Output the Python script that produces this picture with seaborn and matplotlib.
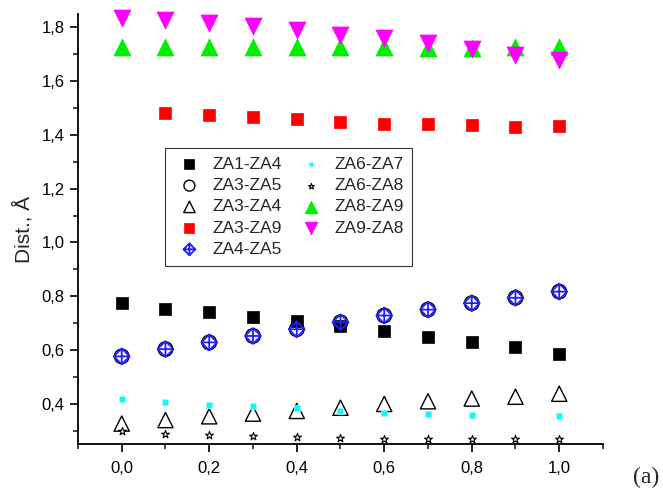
import numpy as np
import pandas as pd
import matplotlib
matplotlib.use("Agg")
import matplotlib.pyplot as plt
from matplotlib.path import Path
from matplotlib.ticker import MultipleLocator, FuncFormatter
import seaborn as sns

x = [0.0, 0.1, 0.2, 0.3, 0.4, 0.5, 0.6, 0.7, 0.8, 0.9, 1.0]
za1_za4 = [0.776, 0.752, 0.743, 0.724, 0.708, 0.690, 0.671, 0.649, 0.628, 0.610, 0.585]
za3_za5 = [0.576, 0.603, 0.628, 0.652, 0.677, 0.703, 0.728, 0.750, 0.774, 0.794, 0.817]
za3_za4 = [0.326, 0.339, 0.353, 0.363, 0.373, 0.385, 0.399, 0.409, 0.419, 0.426, 0.437]
za3_za9 = [np.nan, 1.483, 1.473, 1.467, 1.460, 1.448, 1.441, 1.439, 1.436, 1.430, 1.433]
za4_za5 = [0.576, 0.603, 0.628, 0.652, 0.677, 0.703, 0.728, 0.750, 0.774, 0.794, 0.817]
za6_za7 = [0.417, 0.405, 0.396, 0.390, 0.383, 0.372, 0.364, 0.362, 0.357, np.nan, 0.353]
za6_za8 = [0.297, 0.289, 0.284, 0.280, 0.276, 0.272, 0.268, 0.267, 0.267, 0.268, 0.267]
za8_za9 = [1.727, 1.727, 1.726, 1.727, 1.727, 1.726, 1.726, 1.725, 1.725, 1.726, 1.727]
za9_za8 = [1.835, 1.829, 1.816, 1.804, 1.789, 1.773, 1.760, 1.742, 1.721, 1.696, 1.677]

labels = ["ZA1-ZA4", "ZA3-ZA5", "ZA3-ZA4", "ZA3-ZA9", "ZA4-ZA5",
          "ZA6-ZA7", "ZA6-ZA8", "ZA8-ZA9", "ZA9-ZA8"]
series = [za1_za4, za3_za5, za3_za4, za3_za9, za4_za5, za6_za7, za6_za8, za8_za9, za9_za8]

# crossed diamond marker
verts = [(0, 1), (1, 0), (0, -1), (-1, 0), (0, 1),
         (0, 1), (0, -1), (-1, 0), (1, 0)]
codes = [Path.MOVETO, Path.LINETO, Path.LINETO, Path.LINETO, Path.CLOSEPOLY,
         Path.MOVETO, Path.LINETO, Path.MOVETO, Path.LINETO]
crossdiamond = Path(verts, codes)

styles = {
    "ZA1-ZA4": dict(marker="s", s=80, fc="black", ec="black", lw=0.5),
    "ZA3-ZA5": dict(marker="o", s=110, fc="none", ec="black", lw=1.0),
    "ZA3-ZA4": dict(marker="^", s=120, fc="none", ec="black", lw=1.0),
    "ZA3-ZA9": dict(marker="s", s=80, fc="red", ec="red", lw=0.5),
    "ZA4-ZA5": dict(marker=crossdiamond, s=130, fc="none", ec="#2020ff", lw=1.3),
    "ZA6-ZA7": dict(marker="s", s=20, fc="cyan", ec="#9ff5ff", lw=0.5),
    "ZA6-ZA8": dict(marker="*", s=35, fc="white", ec="black", lw=0.8),
    "ZA8-ZA9": dict(marker="^", s=150, fc="#00ee00", ec="#00ee00", lw=0.5),
    "ZA9-ZA8": dict(marker="v", s=150, fc="#ff00ff", ec="#ff00ff", lw=0.5),
}

sns.set_style("ticks")
plt.rcParams["font.family"] = ["Liberation Sans", "DejaVu Sans"]

fig = plt.figure(figsize=(6.63, 4.93), dpi=100)
ax = fig.add_axes([0.1176, 0.0994, 0.7919, 0.8722])

for lab, vals in zip(labels, series):
    df = pd.DataFrame({"x": x, "y": vals}).dropna()
    st = styles[lab]
    sns.scatterplot(data=df, x="x", y="y", ax=ax, marker=st["marker"], s=st["s"],
                    facecolor=st["fc"], edgecolor=st["ec"], linewidth=st["lw"],
                    label=lab, zorder=3, clip_on=False)

ax.set_xlim(-0.1, 1.1)
ax.set_ylim(0.25, 1.85)
ax.xaxis.set_major_locator(MultipleLocator(0.2))
ax.xaxis.set_minor_locator(MultipleLocator(0.1))
ax.yaxis.set_major_locator(MultipleLocator(0.2))
ax.yaxis.set_minor_locator(MultipleLocator(0.1))
fmt = FuncFormatter(lambda v, p: f"{v:.1f}".replace(".", ","))
ax.xaxis.set_major_formatter(fmt)
ax.yaxis.set_major_formatter(fmt)
ax.tick_params(axis="both", which="major", direction="out", length=6, width=1.2,
               labelsize=12, colors="black")
ax.tick_params(axis="x", which="major", pad=6)
ax.tick_params(axis="both", which="minor", direction="out", length=3.5, width=1.2)
for sp in ["top", "right"]:
    ax.spines[sp].set_visible(False)
for sp in ["left", "bottom"]:
    ax.spines[sp].set_linewidth(1.3)
    ax.spines[sp].set_color("black")

ax.set_xlabel("")
ax.set_ylabel("Dist., Å", fontsize=15, labelpad=6)

leg = ax.legend(loc="upper left", bbox_to_anchor=(0.166, 0.688), borderaxespad=0,
                ncol=2, fontsize=12.5, frameon=True, fancybox=False,
                edgecolor="black", handlelength=1.8, handletextpad=0.45,
                columnspacing=0.75, labelspacing=0.35, borderpad=0.5,
                markerscale=0.75)
leg.get_frame().set_linewidth(0.8)

fig.text(0.995, 0.01, "(a)", fontsize=17, family="Liberation Serif", ha="right", va="bottom")

fig.savefig("out.png", dpi=100)
